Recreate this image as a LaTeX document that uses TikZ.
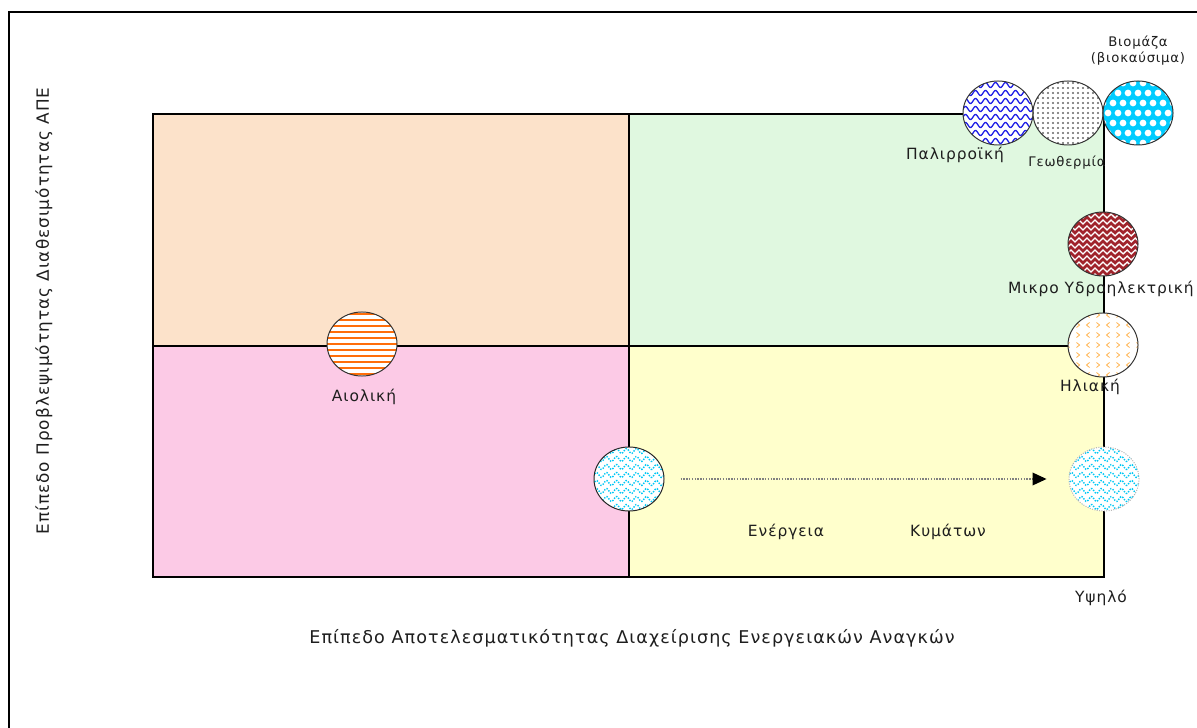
\documentclass[tikz,border=0pt]{standalone}
\usepackage{fontspec}
\setmainfont{DejaVu Sans}[LetterSpace=6]
\usetikzlibrary{arrows.meta, positioning, shapes.geometric, decorations.pathmorphing}

\definecolor{peach}{RGB}{252,226,202}
\definecolor{mint}{RGB}{224,248,224}
\definecolor{rose}{RGB}{252,202,230}
\definecolor{cream}{RGB}{255,255,204}
\definecolor{tideblue}{RGB}{30,30,230}
\definecolor{seacyan}{RGB}{0,200,245}
\definecolor{biocyan}{RGB}{0,204,255}
\definecolor{hydrored}{RGB}{160,36,44}
\definecolor{sunorange}{RGB}{255,180,80}
\definecolor{windorange}{RGB}{255,110,10}
\definecolor{txt}{RGB}{30,30,30}

\begin{document}
\begin{tikzpicture}[x=0.025cm, y=-0.025cm,
    src/.style={ellipse, draw=black!80, line width=0.7pt, fill=white,
        minimum width=1.75cm, minimum height=1.6cm, inner sep=0pt},
    lbl/.style={text=txt, font=\fontsize{11}{13}\selectfont, inner sep=0pt},
    axis/.style={font=\fontsize{12.5}{14}\selectfont},
    small/.style={font=\fontsize{9.4}{11.5}\selectfont},
    tidal/.style={src, path picture={
        \begin{scope}[shift={(path picture bounding box.center)}]
        \foreach \b in {-36,-28,...,36}
            \draw[tideblue, line width=0.9pt] plot[domain=-40:40, samples=81, smooth] (\x,{\b+2.5*sin(36*\x)});
        \end{scope}}},
    geo/.style={src, path picture={
        \begin{scope}[shift={(path picture bounding box.center)}]
        \foreach \a in {-40,-35,...,40}
            \foreach \b in {-40,-35,...,40}
                \fill[black!60] (\a,\b) circle (0.85pt);
        \end{scope}}},
    bio/.style={src, fill=biocyan, path picture={
        \begin{scope}[shift={(path picture bounding box.center)}]
        \foreach \b [count=\i] in {-40,-30,...,40}
            \foreach \a in {-45,-35,...,45}
                \fill[white] ({\a+5*mod(\i,2)},\b) circle (2.4pt);
        \end{scope}}},
    hydro/.style={src, fill=hydrored, path picture={
        \begin{scope}[shift={(path picture bounding box.center)}]
        \foreach \b in {-40,-34,...,40}
            \draw[white, line width=0.9pt, decorate,
                decoration={zigzag, segment length=5.7pt, amplitude=1.4pt}] (-42,\b) -- (42,\b);
        \end{scope}}},
    solar/.style={src, path picture={
        \begin{scope}[shift={(path picture bounding box.center)}, sunorange, line width=0.6pt]
        \foreach \b in {-40,-30,...,40} {
            \foreach \a in {-35,-15,...,35}
                \draw (\a+1.5,\b-2.5) -- (\a-1.5,\b) -- (\a+1.5,\b+2.5);
            \foreach \a in {-25,-5,...,35}
                \draw (\a-1.5,\b-2.5) -- (\a+1.5,\b) -- (\a-1.5,\b+2.5);
        }
        \end{scope}}},
    wind/.style={src, path picture={
        \begin{scope}[shift={(path picture bounding box.center)}]
        \foreach \b in {-36,-30,...,36}
            \draw[windorange, line width=1.1pt] (-40,\b) -- (40,\b);
        \end{scope}}},
    wave/.style={src, path picture={
        \begin{scope}[shift={(path picture bounding box.center)}]
        \foreach \b in {-36,-28,...,36}
            \draw[seacyan, line width=1pt, densely dotted] plot[domain=-40:40, samples=81, smooth] (\x,{\b+2.5*sin(36*\x)});
        \end{scope}}},
    arrowline/.style={gray, line width=1pt, densely dotted,
        -{Triangle[length=10pt, width=9pt, color=black, fill=black]}},
]
\useasboundingbox (0,0) rectangle (1197,728);

% outer frame (top and left only)
\draw[line width=1.5pt] (9,728) -- (9,12) -- (1197,12);

% quadrants
\fill[peach] (153,114) rectangle (629,346);
\fill[mint] (629,114) rectangle (1104,346);
\fill[rose] (153,346) rectangle (629,577);
\fill[cream] (629,346) rectangle (1104,577);
\draw[line width=1pt] (153,114) rectangle (1104,577);
\draw[line width=1pt] (629,114) -- (629,577);
\draw[line width=1pt] (153,346) -- (1104,346);

% sources
\node[tidal] (tidal) at (998,113) {};
\node[geo] (geo) at (1068,113) {};
\node[bio] (bio) at (1138,113) {};
\node[hydro] (hydro) at (1103,244) {};
\node[solar] (solar) at (1103,345) {};
\node[wind] (wind) at (362,344) {};
\node[wave, draw=black!85] (wave1) at (629,479) {};
\node[wave, draw=gray!60, densely dotted] (wave2) at (1104,479) {};

\draw[arrowline, shorten <=11.4pt, shorten >=15.6pt] (wave1) -- (wave2);

% labels
\node[lbl, small, align=center] (biolbl) at (1138,51) {Βιομάζα\\(βιοκαύσιμα)};
\node[lbl] (tidallbl) at (955,155) {Παλιρροϊκή};
\node[lbl, small] (geolbl) at (1067,163) {Γεωθερμία};
\node[lbl] (hydrolbl) at (1101,289) {Μικρο Υδροηλεκτρική};
\node[lbl] (solarlbl) at (1090,387) {Ηλιακή};
\node[lbl] (windlbl) at (364,397) {Αιολική};
\node[lbl] (wavelbl1) at (786,532) {Ενέργεια};
\node[lbl] (wavelbl2) at (948,532) {Κυμάτων};
\node[lbl] (high) at (1101,598) {Υψηλό};
\node[lbl, axis] (xlbl) at (632,638) {Επίπεδο Αποτελεσματικότητας Διαχείρισης Ενεργειακών Αναγκών};
\node[lbl, axis, font=\fontsize{12}{14}\selectfont, rotate=90] (ylbl) at (44,311) {Επίπεδο Προβλεψιμότητας Διαθεσιμότητας ΑΠΕ};
\end{tikzpicture}
\end{document}
